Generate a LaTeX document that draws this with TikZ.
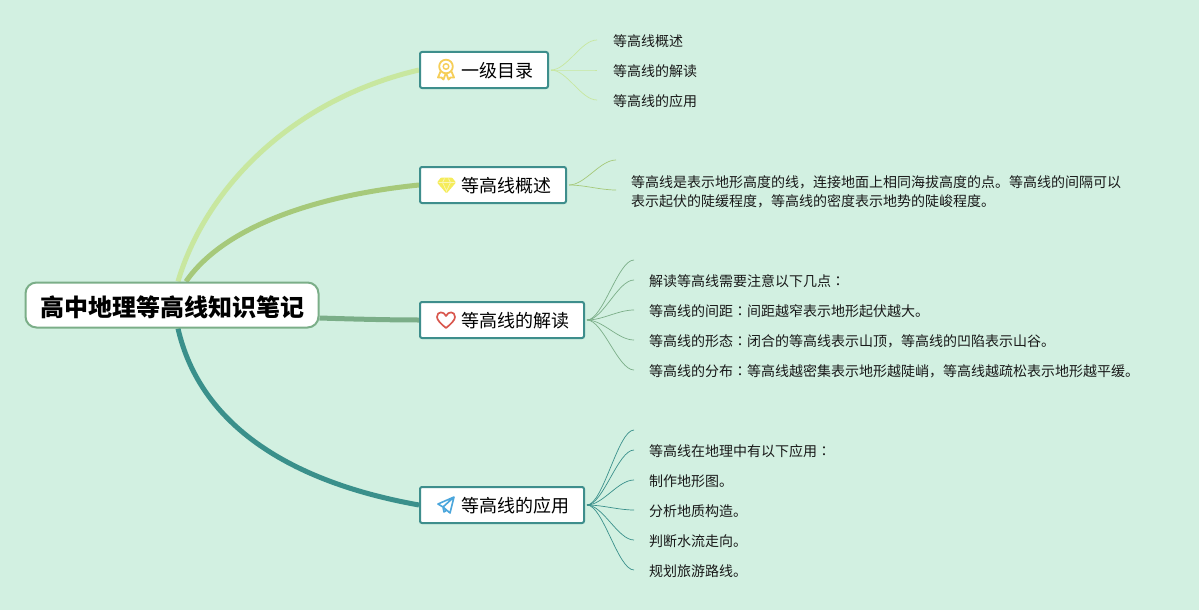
\documentclass[tikz,border=0pt]{standalone}
\usepackage{fontspec}
\usetikzlibrary{backgrounds}
\setmainfont{Noto Sans CJK SC}
\newfontfamily\cjktc{Noto Sans CJK TC}
\newcommand{\cc}{{\cjktc ：}}
\definecolor{bgc}{HTML}{D2F0E1}
\definecolor{teal1}{HTML}{3E8E8C}
\definecolor{c1}{HTML}{C8E79F}
\definecolor{c2}{HTML}{A6C97A}
\definecolor{c3}{HTML}{7BAE88}
\definecolor{c4}{HTML}{3A908B}
\definecolor{medal}{HTML}{F6CE58}
\definecolor{gem}{HTML}{F5EC5A}
\definecolor{heart}{HTML}{D9574E}
\definecolor{plane}{HTML}{4BA6DC}
\tikzset{
  rootbox/.style={draw=c3,line width=2pt,fill=white,rounded corners=11pt,minimum width=293pt,minimum height=45pt,inner sep=0pt,text height=22.2pt,text depth=0pt,font=\fontsize{24}{28}\selectfont\bfseries,text=black},
  topicbox/.style={draw=teal1,line width=2pt,fill=white,rounded corners=2pt,minimum height=36pt,inner xsep=15pt,inner ysep=0pt,text height=15.6pt,text depth=0pt,anchor=west,font=\fontsize{18}{22}\selectfont,text=black},
  leaf/.style={anchor=west,inner sep=0pt,yshift=0.7pt,font=\fontsize{14}{19}\selectfont,text=black!90,align=left},
  mainlink/.style={line width=5pt},
  sublink/.style={line width=0.7pt},
}
\begin{document}
\begin{tikzpicture}[x=1pt,y=-1pt]
\useasboundingbox (0,0) rectangle (1199,610);
\node[rootbox] (root) at (172,305) {高中地理等高线知识笔记};
\node[topicbox] (t1) at (419,70) {\hspace*{26pt}一级目录};
\node[topicbox] (t2) at (419,185) {\hspace*{26pt}等高线概述};
\node[topicbox] (t3) at (419,320) {\hspace*{26pt}等高线的解读};
\node[topicbox] (t4) at (419,505) {\hspace*{26pt}等高线的应用};
% leaf texts
\node[leaf] (a1) at (613,42) {等高线概述};
\node[leaf] (a2) at (613,72) {等高线的解读};
\node[leaf] (a3) at (613,102) {等高线的应用};
\node[leaf] (b1) at (631,192.7) {等高线是表示地形高度的线，连接地面上相同海拔高度的点。等高线的间隔可以\\表示起伏的陡缓程度，等高线的密度表示地势的陡峻程度。};
\node[leaf] (c1n) at (649,282) {解读等高线需要注意以下几点\cc};
\node[leaf] (c2n) at (649,312) {等高线的间距\cc 间距越窄表示地形起伏越大。};
\node[leaf] (c3n) at (649,342) {等高线的形态\cc 闭合的等高线表示山顶，等高线的凹陷表示山谷。};
\node[leaf] (c4n) at (649,372) {等高线的分布\cc 等高线越密集表示地形越陡峭，等高线越疏松表示地形越平缓。};
\node[leaf] (d1) at (649,452) {等高线在地理中有以下应用\cc};
\node[leaf] (d2) at (649,482) {制作地形图。};
\node[leaf] (d3) at (649,512) {分析地质构造。};
\node[leaf] (d4) at (649,542) {判断水流走向。};
\node[leaf] (d5) at (649,572) {规划旅游路线。};
\begin{scope}[on background layer]
\fill[bgc] (0,0) rectangle (1199,610);
% main connectors
\begin{scope}[mainlink]
\draw[c1] ([xshift=6pt]root.north) .. controls (205,190) and (290,100) .. (t1.west);
\draw[c2] ([xshift=14pt]root.north) .. controls (225,225) and (320,195) .. (t2.west);
\draw[c3] ([yshift=-13pt]root.east) .. controls (350,319) and (390,320) .. (t3.west);
\draw[c4] ([xshift=6pt]root.south) .. controls (200,425) and (290,482) .. (t4.west);
\end{scope}
% sub connectors
\coordinate (e2) at (616,160);
\coordinate (e3) at (634,260);
\coordinate (e4) at (634,430);
\begin{scope}[sublink]
\foreach \y in {40,70,100}
  \draw[c1] ([xshift=2pt]t1.east) .. controls ++(16,0) and (581,\y) .. (597,\y);
\draw[c2] ([xshift=2pt]t2.east) .. controls ++(16,0) and (600,160) .. (e2);
\draw[c2] ([xshift=2pt]t2.east) .. controls ++(16,0) and (600,190) .. (616,190);
\draw[c3] ([xshift=2pt]t3.east) .. controls ++(16,0) and (618,260) .. (e3);
\foreach \y in {280,310,340,370}
  \draw[c3] ([xshift=2pt]t3.east) .. controls ++(16,0) and (618,\y) .. (634,\y);
\draw[c4] ([xshift=2pt]t4.east) .. controls ++(16,0) and (618,430) .. (e4);
\foreach \y in {450,480,510,540,570}
  \draw[c4] ([xshift=2pt]t4.east) .. controls ++(16,0) and (618,\y) .. (634,\y);
\end{scope}
\end{scope}
% icons
\begin{scope}[shift={(446,70)}]
  \draw[medal,line width=1.8pt] (0,-3.5) circle (6.8);
  \draw[medal,line width=1.4pt] (0,-3.5) circle (2.8);
  \draw[medal,line width=1.8pt,line join=round] (-5.5,1.5) -- (-8,7.5) -- (-4.5,7.5) -- (-2.5,9.5) -- (-0.5,4);
  \draw[medal,line width=1.8pt,line join=round] (5.5,1.5) -- (8,7.5) -- (4.5,7.5) -- (2.5,9.5) -- (0.5,4);
\end{scope}
\begin{scope}[shift={(446.5,185)}]
  \fill[gem,rounded corners=1pt] (-5.5,-7.5) -- (5.5,-7.5) -- (9.5,-2.5) -- (0,8.5) -- (-9.5,-2.5) -- cycle;
  \draw[white!55!gem,line width=0.7pt] (-8,-2.5) -- (8,-2.5) (-4,-2.5) -- (0,6) -- (4,-2.5) (-4,-2.5) -- (-2,-6.5) (4,-2.5) -- (2,-6.5);
\end{scope}
\begin{scope}[shift={(446,320)}]
  \draw[heart,line width=1.7pt,line join=round]
    (0,8) .. controls (-5,4) and (-9,0) .. (-9,-3) .. controls (-9,-9) and (-2,-9) .. (0,-4)
    .. controls (2,-9) and (9,-9) .. (9,-3) .. controls (9,0) and (5,4) .. (0,8) -- cycle;
\end{scope}
\begin{scope}[shift={(446,505)}]
  \draw[plane,line width=1.6pt,line join=round]
    (8,-8) -- (-8,-1) -- (-3,2) -- (8,-8) -- (4,8) -- (-3,2) -- (-2,7) -- (1,5);
\end{scope}
\end{tikzpicture}
\end{document}
